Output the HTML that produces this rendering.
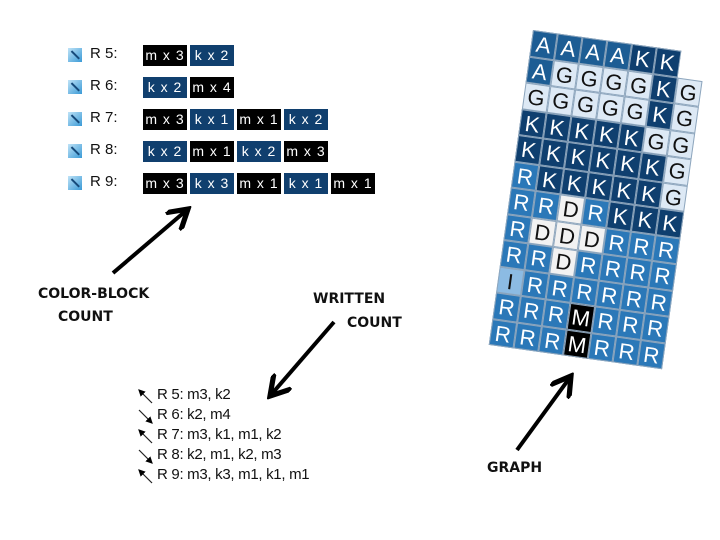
<!DOCTYPE html>
<html><head><meta charset="utf-8"><style>
body{margin:0;width:720px;height:540px;background:#fff;position:relative;overflow:hidden;font-family:"Liberation Sans",sans-serif}
.ic{position:absolute;left:68px;width:14px;height:14px;background:linear-gradient(135deg,#bfe3f7,#3a9ad6)}
.ic:after{content:"";position:absolute;left:2px;top:6px;width:11px;height:1.5px;background:#164a7a;transform:rotate(45deg)}
.rl{position:absolute;left:90px;font-size:15px;color:#111}
.bk{position:absolute;height:21px;line-height:21px;width:44px;text-align:center;color:#fff;font-size:14px;letter-spacing:1px;white-space:nowrap;overflow:hidden}
.m{background:#000}.k{background:#103f6e}
.lb{position:absolute;font-family:"DejaVu Sans",sans-serif;font-weight:bold;font-size:14px;color:#111;white-space:nowrap}
.wl{position:absolute;left:157px;font-size:15px;color:#111;letter-spacing:-0.3px;white-space:nowrap}
#g{position:absolute;left:533px;top:30px;transform-origin:0 0;transform:rotate(8deg);display:grid;grid-template-columns:repeat(7,25px);grid-auto-rows:26.5px}
#g div{box-sizing:border-box;border:1px solid #8ea6bd;text-align:center;line-height:25px;font-size:22px;color:#fff}
.A{background:#1d5d94}.K{background:#0f3f6f}.G{background:#dde9f5;color:#111!important}.R{background:#2b78b8}.D{background:#f2f2f2;color:#111!important}.I{background:#8cbbe3;color:#111!important}.M{background:#000}.X{background:#fff;border-color:#fff!important}
</style></head><body>
<div class="ic" style="top:48px"></div><div class="rl" style="top:45px">R 5:</div>
<div class="ic" style="top:80px"></div><div class="rl" style="top:77px">R 6:</div>
<div class="ic" style="top:112px"></div><div class="rl" style="top:109px">R 7:</div>
<div class="ic" style="top:144px"></div><div class="rl" style="top:141px">R 8:</div>
<div class="ic" style="top:176px"></div><div class="rl" style="top:173px">R 9:</div>

<div class="bk m" style="left:143px;top:45px">m x 3</div><div class="bk k" style="left:190px;top:45px">k x 2</div>
<div class="bk k" style="left:143px;top:77px">k x 2</div><div class="bk m" style="left:190px;top:77px">m x 4</div>
<div class="bk m" style="left:143px;top:109px">m x 3</div><div class="bk k" style="left:190px;top:109px">k x 1</div><div class="bk m" style="left:237px;top:109px">m x 1</div><div class="bk k" style="left:284px;top:109px">k x 2</div>
<div class="bk k" style="left:143px;top:141px">k x 2</div><div class="bk m" style="left:190px;top:141px">m x 1</div><div class="bk k" style="left:237px;top:141px">k x 2</div><div class="bk m" style="left:284px;top:141px">m x 3</div>
<div class="bk m" style="left:143px;top:173px">m x 3</div><div class="bk k" style="left:190px;top:173px">k x 3</div><div class="bk m" style="left:237px;top:173px">m x 1</div><div class="bk k" style="left:284px;top:173px">k x 1</div><div class="bk m" style="left:331px;top:173px">m x 1</div>

<div class="lb" style="left:38px;top:286px">COLOR-BLOCK</div>
<div class="lb" style="left:58px;top:309px">COUNT</div>
<div class="lb" style="left:313px;top:291px">WRITTEN</div>
<div class="lb" style="left:347px;top:315px">COUNT</div>
<div class="lb" style="left:487px;top:460px">GRAPH</div>

<div class="wl" style="top:386px">R 5: m3, k2</div>
<div class="wl" style="top:406px">R 6: k2, m4</div>
<div class="wl" style="top:426px">R 7: m3, k1, m1, k2</div>
<div class="wl" style="top:446px">R 8: k2, m1, k2, m3</div>
<div class="wl" style="top:466px">R 9: m3, k3, m1, k1, m1</div>

<svg width="720" height="540" style="position:absolute;left:0;top:0">
<defs>
<marker id="a" markerWidth="6" markerHeight="6" refX="5" refY="3" orient="auto"><path d="M0,0 L5,3 L0,6" fill="none" stroke="#000" stroke-width="1.3"/></marker>
<marker id="s" markerWidth="6" markerHeight="6" refX="5" refY="3" orient="auto"><path d="M0,0 L6,3 L0,6z" fill="#000"/></marker>
</defs>
<g stroke="#000" stroke-width="4" fill="none" marker-end="url(#a)">
<line x1="113" y1="273" x2="188" y2="209"/>
<line x1="334" y1="322" x2="270" y2="396"/>
<line x1="517" y1="450" x2="571" y2="376"/>
</g>
<g stroke="#222" stroke-width="1.2" marker-end="url(#s)">
<line x1="152" y1="403" x2="139" y2="390"/>
<line x1="139" y1="410" x2="152" y2="423"/>
<line x1="152" y1="443" x2="139" y2="430"/>
<line x1="139" y1="450" x2="152" y2="463"/>
<line x1="152" y1="483" x2="139" y2="470"/>
</g>
</svg>

<div id="g">
<div class="A">A</div><div class="A">A</div><div class="A">A</div><div class="A">A</div><div class="K">K</div><div class="K">K</div><div class="X"></div>
<div class="A">A</div><div class="G">G</div><div class="G">G</div><div class="G">G</div><div class="G">G</div><div class="K">K</div><div class="G">G</div>
<div class="G">G</div><div class="G">G</div><div class="G">G</div><div class="G">G</div><div class="G">G</div><div class="K">K</div><div class="G">G</div>
<div class="K">K</div><div class="K">K</div><div class="K">K</div><div class="K">K</div><div class="K">K</div><div class="G">G</div><div class="G">G</div>
<div class="K">K</div><div class="K">K</div><div class="K">K</div><div class="K">K</div><div class="K">K</div><div class="K">K</div><div class="G">G</div>
<div class="R">R</div><div class="K">K</div><div class="K">K</div><div class="K">K</div><div class="K">K</div><div class="K">K</div><div class="G">G</div>
<div class="R">R</div><div class="R">R</div><div class="D">D</div><div class="R">R</div><div class="K">K</div><div class="K">K</div><div class="K">K</div>
<div class="R">R</div><div class="D">D</div><div class="D">D</div><div class="D">D</div><div class="R">R</div><div class="R">R</div><div class="R">R</div>
<div class="R">R</div><div class="R">R</div><div class="D">D</div><div class="R">R</div><div class="R">R</div><div class="R">R</div><div class="R">R</div>
<div class="I">I</div><div class="R">R</div><div class="R">R</div><div class="R">R</div><div class="R">R</div><div class="R">R</div><div class="R">R</div>
<div class="R">R</div><div class="R">R</div><div class="R">R</div><div class="M">M</div><div class="R">R</div><div class="R">R</div><div class="R">R</div>
<div class="R">R</div><div class="R">R</div><div class="R">R</div><div class="M">M</div><div class="R">R</div><div class="R">R</div><div class="R">R</div>
</div>
</body></html>
